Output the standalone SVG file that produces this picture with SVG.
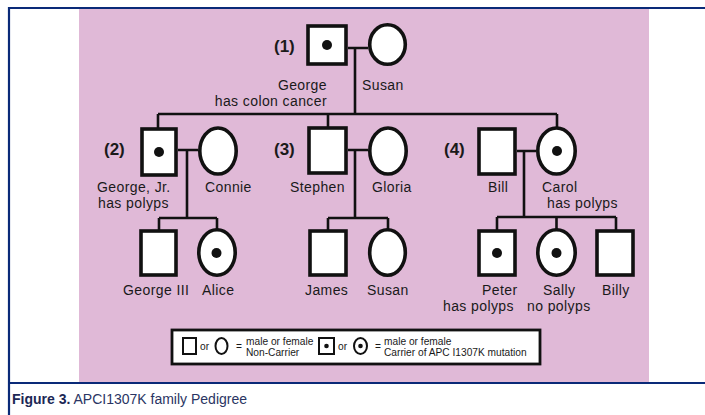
<svg xmlns="http://www.w3.org/2000/svg" width="705" height="415" viewBox="0 0 705 415">
  <style>
    .frame { fill: none; stroke: #0a2a78; stroke-width: 2.2; }
    .sym { fill: #ffffff; stroke: #111111; stroke-width: 3.6; }
    .lsym { fill: #ffffff; stroke: #111111; stroke-width: 2; }
    .dot { fill: #111111; }
    .line { fill: none; stroke: #111111; stroke-width: 2.6; }
    .lbl { font-family: "Liberation Sans", Arial, sans-serif; font-size: 14px; letter-spacing: 0.4px; fill: #1a1a1a; }
    .gen { font-family: "Liberation Sans", Arial, sans-serif; font-size: 17px; font-weight: bold; fill: #1a1a1a; }
    .key { font-family: "Liberation Sans", Arial, sans-serif; font-size: 10.2px; fill: #1a1a1a; }
    .cap { font-family: "Liberation Sans", Arial, sans-serif; font-size: 14px; fill: #2a3563; }
  </style>

  <!-- page frame and figure panel -->
  <rect x="0" y="0" width="705" height="415" fill="#ffffff"/>
  <rect x="79" y="9" width="570" height="373" fill="#e0b9d7"/>
  <path class="frame" d="M705,8 H9 V415"/>
  <path class="frame" d="M9,383 H705"/>

  <!-- connectors: marriage, descent and sibship lines -->
  <g id="connectors">
    <path class="line" d="M348,48 H368 M355,48 V114 M158,114 H557 M158,114 V128 M328,114 V127 M557,114 V127"/>
    <path class="line" d="M178,150 H198 M187,150 V218 M159,218 H217 M159,218 V230 M217,218 V229"/>
    <path class="line" d="M348,150 H368 M355,150 V218 M328,218 H388 M328,218 V230 M388,218 V229"/>
    <path class="line" d="M517,151 H536 M524,151 V217 M497,217 H616 M497,217 V230 M556.5,217 V229 M616,217 V230"/>
  </g>

  <!-- generation I -->
  <g id="george">
    <rect class="sym" x="308" y="26" width="38" height="38"/>
    <circle class="dot" cx="327" cy="45" r="5"/>
    <text class="gen" x="274" y="52">(1)</text>
    <text class="lbl" x="327" y="90" text-anchor="end">George</text>
    <text class="lbl" x="327" y="106" text-anchor="end">has colon cancer</text>
  </g>
  <g id="susan">
    <ellipse class="sym" cx="387.5" cy="44.5" rx="17.8" ry="19.8"/>
    <text class="lbl" x="362" y="90">Susan</text>
  </g>

  <!-- generation II -->
  <g id="george-jr">
    <rect class="sym" x="142" y="129" width="34" height="46"/>
    <circle class="dot" cx="159" cy="152" r="5"/>
    <text class="gen" x="104" y="155">(2)</text>
    <text class="lbl" x="97" y="192">George, Jr.</text>
    <text class="lbl" x="98" y="208">has polyps</text>
  </g>
  <g id="connie">
    <ellipse class="sym" cx="218" cy="151" rx="18.2" ry="23"/>
    <text class="lbl" x="205" y="192">Connie</text>
  </g>
  <g id="stephen">
    <rect class="sym" x="309" y="128" width="37" height="45"/>
    <text class="gen" x="274" y="155">(3)</text>
    <text class="lbl" x="290" y="192">Stephen</text>
  </g>
  <g id="gloria">
    <ellipse class="sym" cx="388" cy="151" rx="18.2" ry="23"/>
    <text class="lbl" x="372" y="192">Gloria</text>
  </g>
  <g id="bill">
    <rect class="sym" x="479" y="129" width="36" height="45"/>
    <text class="gen" x="444" y="155">(4)</text>
    <text class="lbl" x="488" y="192">Bill</text>
  </g>
  <g id="carol">
    <ellipse class="sym" cx="556.5" cy="151" rx="18.7" ry="23"/>
    <circle class="dot" cx="557" cy="151" r="5"/>
    <text class="lbl" x="542" y="192">Carol</text>
    <text class="lbl" x="547" y="208">has polyps</text>
  </g>

  <!-- generation III -->
  <g id="george-iii">
    <rect class="sym" x="141" y="231" width="35" height="44"/>
    <text class="lbl" x="123" y="295">George III</text>
  </g>
  <g id="alice">
    <ellipse class="sym" cx="217" cy="252.5" rx="18.2" ry="22.7"/>
    <circle class="dot" cx="216.5" cy="253" r="5"/>
    <text class="lbl" x="202" y="295">Alice</text>
  </g>
  <g id="james">
    <rect class="sym" x="310" y="231" width="36" height="44"/>
    <text class="lbl" x="305" y="295">James</text>
  </g>
  <g id="susan-ii">
    <ellipse class="sym" cx="387.5" cy="252.5" rx="17.8" ry="22.7"/>
    <text class="lbl" x="367" y="295">Susan</text>
  </g>
  <g id="peter">
    <rect class="sym" x="479" y="231" width="36" height="44"/>
    <circle class="dot" cx="497" cy="253" r="5"/>
    <text class="lbl" x="482" y="295">Peter</text>
    <text class="lbl" x="443" y="311">has polyps</text>
  </g>
  <g id="sally">
    <ellipse class="sym" cx="556.5" cy="252.5" rx="18.7" ry="22.7"/>
    <circle class="dot" cx="556.5" cy="253" r="5"/>
    <text class="lbl" x="543" y="295">Sally</text>
    <text class="lbl" x="527" y="311">no polyps</text>
  </g>
  <g id="billy">
    <rect class="sym" x="597" y="231" width="36" height="44"/>
    <text class="lbl" x="602" y="295">Billy</text>
  </g>

  <!-- key -->
  <g id="legend">
    <rect x="172" y="330" width="368" height="34" fill="#ffffff" stroke="#111111" stroke-width="2.8"/>
    <rect class="lsym" x="183" y="338" width="13" height="16"/>
    <text class="key" x="200" y="350">or</text>
    <ellipse class="lsym" cx="221.5" cy="346" rx="6" ry="8"/>
    <text class="key" x="236" y="350">=</text>
    <text class="key" x="246" y="345">male or female</text>
    <text class="key" x="246" y="356">Non-Carrier</text>
    <rect class="lsym" x="319" y="338" width="15" height="16"/>
    <circle class="dot" cx="326.5" cy="346" r="2.3"/>
    <text class="key" x="338" y="350">or</text>
    <ellipse class="lsym" cx="360.5" cy="346" rx="6.5" ry="8"/>
    <circle class="dot" cx="360.5" cy="346" r="2.3"/>
    <text class="key" x="375" y="350">=</text>
    <text class="key" x="384" y="345">male or female</text>
    <text class="key" x="384" y="356">Carrier of APC I1307K mutation</text>
  </g>

  <!-- caption -->
  <text class="cap" x="12" y="404"><tspan font-weight="bold" fill="#1c2755">Figure 3.</tspan> APCI1307K family Pedigree</text>
</svg>
